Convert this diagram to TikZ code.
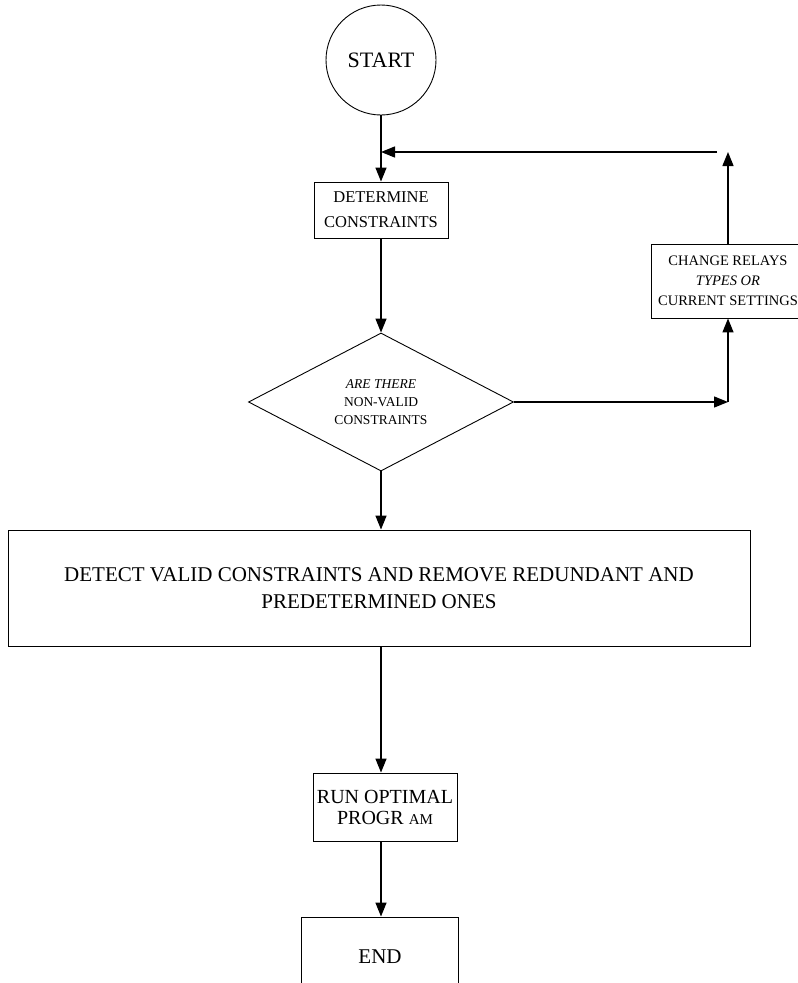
\documentclass[tikz,border=0pt]{standalone}
\usepackage{fontspec}
\setmainfont{Liberation Serif}
\usetikzlibrary{shapes.geometric,arrows.meta}
\begin{document}
\begin{tikzpicture}[x=1pt,y=-1pt,
  box/.style={draw, line width=0.9pt, rectangle, inner sep=0pt, align=center},
  arr/.style={line width=1.4pt, -{Triangle[length=14pt,width=11pt]}}]
\useasboundingbox (0,0) rectangle (798,983);
\fill[white] (0,0) rectangle (798,983);
% nodes
\node[draw, circle, line width=0.9pt, minimum size=110pt, inner sep=0pt,
      font=\fontsize{22}{26}\selectfont] (start) at (381,60) {START};
\node[box, minimum width=134pt, minimum height=56pt,
      font=\fontsize{16.5}{25}\selectfont] (det) at (381,210) {DETERMINE\\CONSTRAINTS};
\node[draw, diamond, line width=0.9pt, minimum width=265pt, minimum height=124pt,
      inner sep=0pt, align=center, font=\fontsize{13.5}{18}\selectfont] (dia) at (381,402)
      {\textit{ARE THERE}\\NON-VALID\\CONSTRAINTS};
\node[box, minimum width=154pt, minimum height=74pt,
      font=\fontsize{14.5}{20}\selectfont] (chg) at (728,281)
      {CHANGE RELAYS\\\textit{TYPES OR}\\CURRENT SETTINGS};
\node[box, minimum width=742pt, minimum height=116pt,
      font=\fontsize{21}{27}\selectfont] (big) at (379,588)
      {DETECT VALID CONSTRAINTS AND REMOVE REDUNDANT AND\\PREDETERMINED ONES};
\node[box, minimum width=144pt, minimum height=68pt,
      font=\fontsize{20}{21}\selectfont] (run) at (385,807)
      {RUN OPTIMAL\\PROGR {\fontsize{15}{21}\selectfont AM}};
\node[box, minimum width=157pt, minimum height=80pt,
      font=\fontsize{21}{25}\selectfont] (end) at (380,957) {END};
% helper coordinates
\coordinate (j) at (381,152);
\coordinate (c1) at (728,402);
\coordinate (c2) at (728,152);
\coordinate (c3) at (717,152);
\coordinate (b1) at (381,646);
% connectors
\draw[arr] (start.south) -- (det.north);
\draw[arr] (det.south) -- (dia.north);
\draw[arr] (dia.east) -- (c1);
\draw[arr] (c1) -- (chg.south);
\draw[arr] (chg.north) -- (c2);
\draw[arr] (c3) -- (j);
\draw[arr] (dia.south) -- (dia.south |- big.north);
\draw[arr] (b1) -- (b1 |- run.north);
\draw[arr] (b1 |- run.south) -- (b1 |- end.north);
\end{tikzpicture}
\end{document}
